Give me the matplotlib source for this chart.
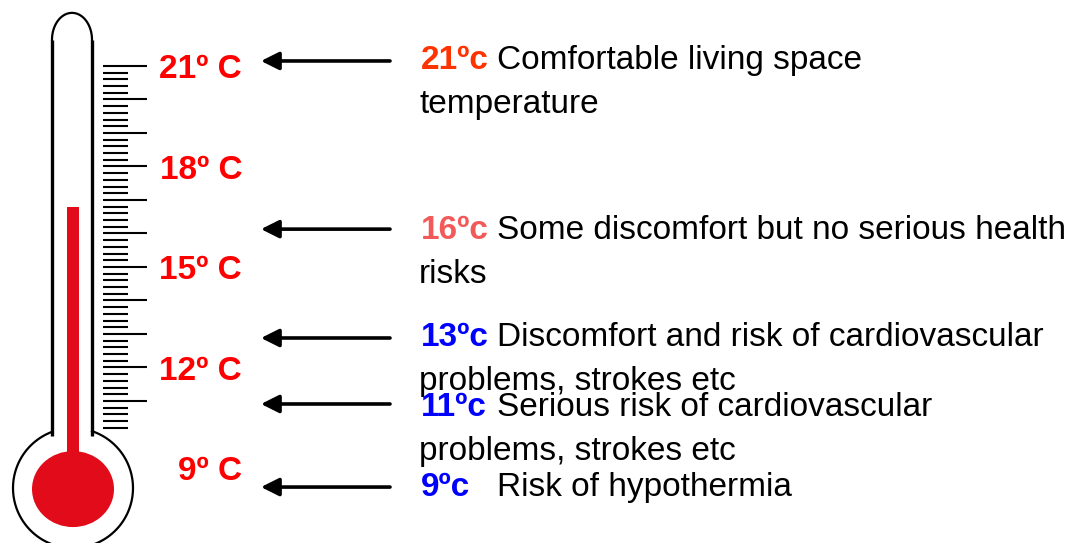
import numpy as np
import matplotlib
matplotlib.use('Agg')
import matplotlib.pyplot as plt
from matplotlib.patches import Ellipse

plt.rcParams['font.family'] = ['Liberation Sans', 'DejaVu Sans']

# Шкала термометра (градусы)
scale_labels = [21, 18, 15, 12, 9]
tick_min, tick_max, tick_step = 10.2, 21.0, 0.2
current_temp = 16.8   # уровень ртути

# Подписи справа
note_temps = [21, 16, 13, 11, 9]
note_tags = ['21ºc', '16ºc', '13ºc', '11ºc', '9ºc']
note_colors = ['#FF3300', '#F25A5A', '#0000FF', '#0000FF', '#0000FF']
note_line1 = ['Comfortable living space', 'Some discomfort but no serious health',
              'Discomfort and risk of cardiovascular', 'Serious risk of cardiovascular',
              'Risk of hypothermia']
note_line2 = ['temperature', 'risks', 'problems, strokes etc', 'problems, strokes etc', '']
arrow_temps = [21.15, 16.13, 12.88, 10.91, 8.43]
text_temps = [21.27, 16.22, 13.0, 10.91, 8.55]

fig = plt.figure(figsize=(10.74, 5.43), dpi=100)
ax = fig.add_axes([0, 0, 1, 1])
ax.set_xlim(0, 1074)
ax.set_ylim(6.76, 22.97)
ax.axis('off')

px = 33.5  # пикселей на градус
fs = 24
dy = 4 / px  # поправка положения текста

# трубка
tube_top = 21.78
tube_bot = 9.96
ax.plot([52, 52], [tube_bot, tube_top], color='black', lw=2.4, solid_capstyle='butt')
ax.plot([92, 92], [tube_bot, tube_top], color='black', lw=2.4, solid_capstyle='butt')
t = np.linspace(0, np.pi, 100)
ax.plot(72 + 20 * np.cos(t), tube_top + 27 / px * np.sin(t), color='black', lw=1.6)

# колба
bulb_y = 8.40
t = np.radians(np.linspace(110.5, 431.5, 300))
ax.plot(73 + 60 * np.cos(t), bulb_y + 60 / px * np.sin(t), color='black', lw=1.6)

# ртуть
merc = '#E20B1A'
ax.add_patch(Ellipse((73, 8.37), 82, 76 / px, color=merc, lw=0))
ax.bar(73, current_temp - 8.37, bottom=8.37, width=12, color=merc, lw=0)

# деления
ticks = np.round(np.arange(tick_min, tick_max + 0.001, tick_step), 1)
major = np.isclose(ticks, np.round(ticks))
ax.hlines(ticks[~major], 103, 128, color='black', lw=1.5)
ax.hlines(ticks[major], 103, 147, color='black', lw=1.5)

for v in scale_labels:
    ax.text(242, v - dy, f'{v}º C', color='#FF0000', fontsize=fs, fontweight='bold',
            ha='right', va='center')

# стрелки и пояснения
for i in range(len(note_temps)):
    ax.annotate('', xy=(261, arrow_temps[i]), xytext=(390, arrow_temps[i]),
                arrowprops=dict(arrowstyle='-|>', lw=2.6, color='black',
                                mutation_scale=27, shrinkA=0, shrinkB=0))
    ty = text_temps[i] - dy
    ax.text(421, ty, note_tags[i], color=note_colors[i], fontsize=fs,
            fontweight='bold', ha='left', va='center')
    ax.text(497, ty, note_line1[i], color='black', fontsize=fs,
            ha='left', va='center')
    if note_line2[i]:
        ax.text(419, ty - 44 / px, note_line2[i], color='black',
                fontsize=fs, ha='left', va='center')

fig.savefig('out.png', dpi=100)
